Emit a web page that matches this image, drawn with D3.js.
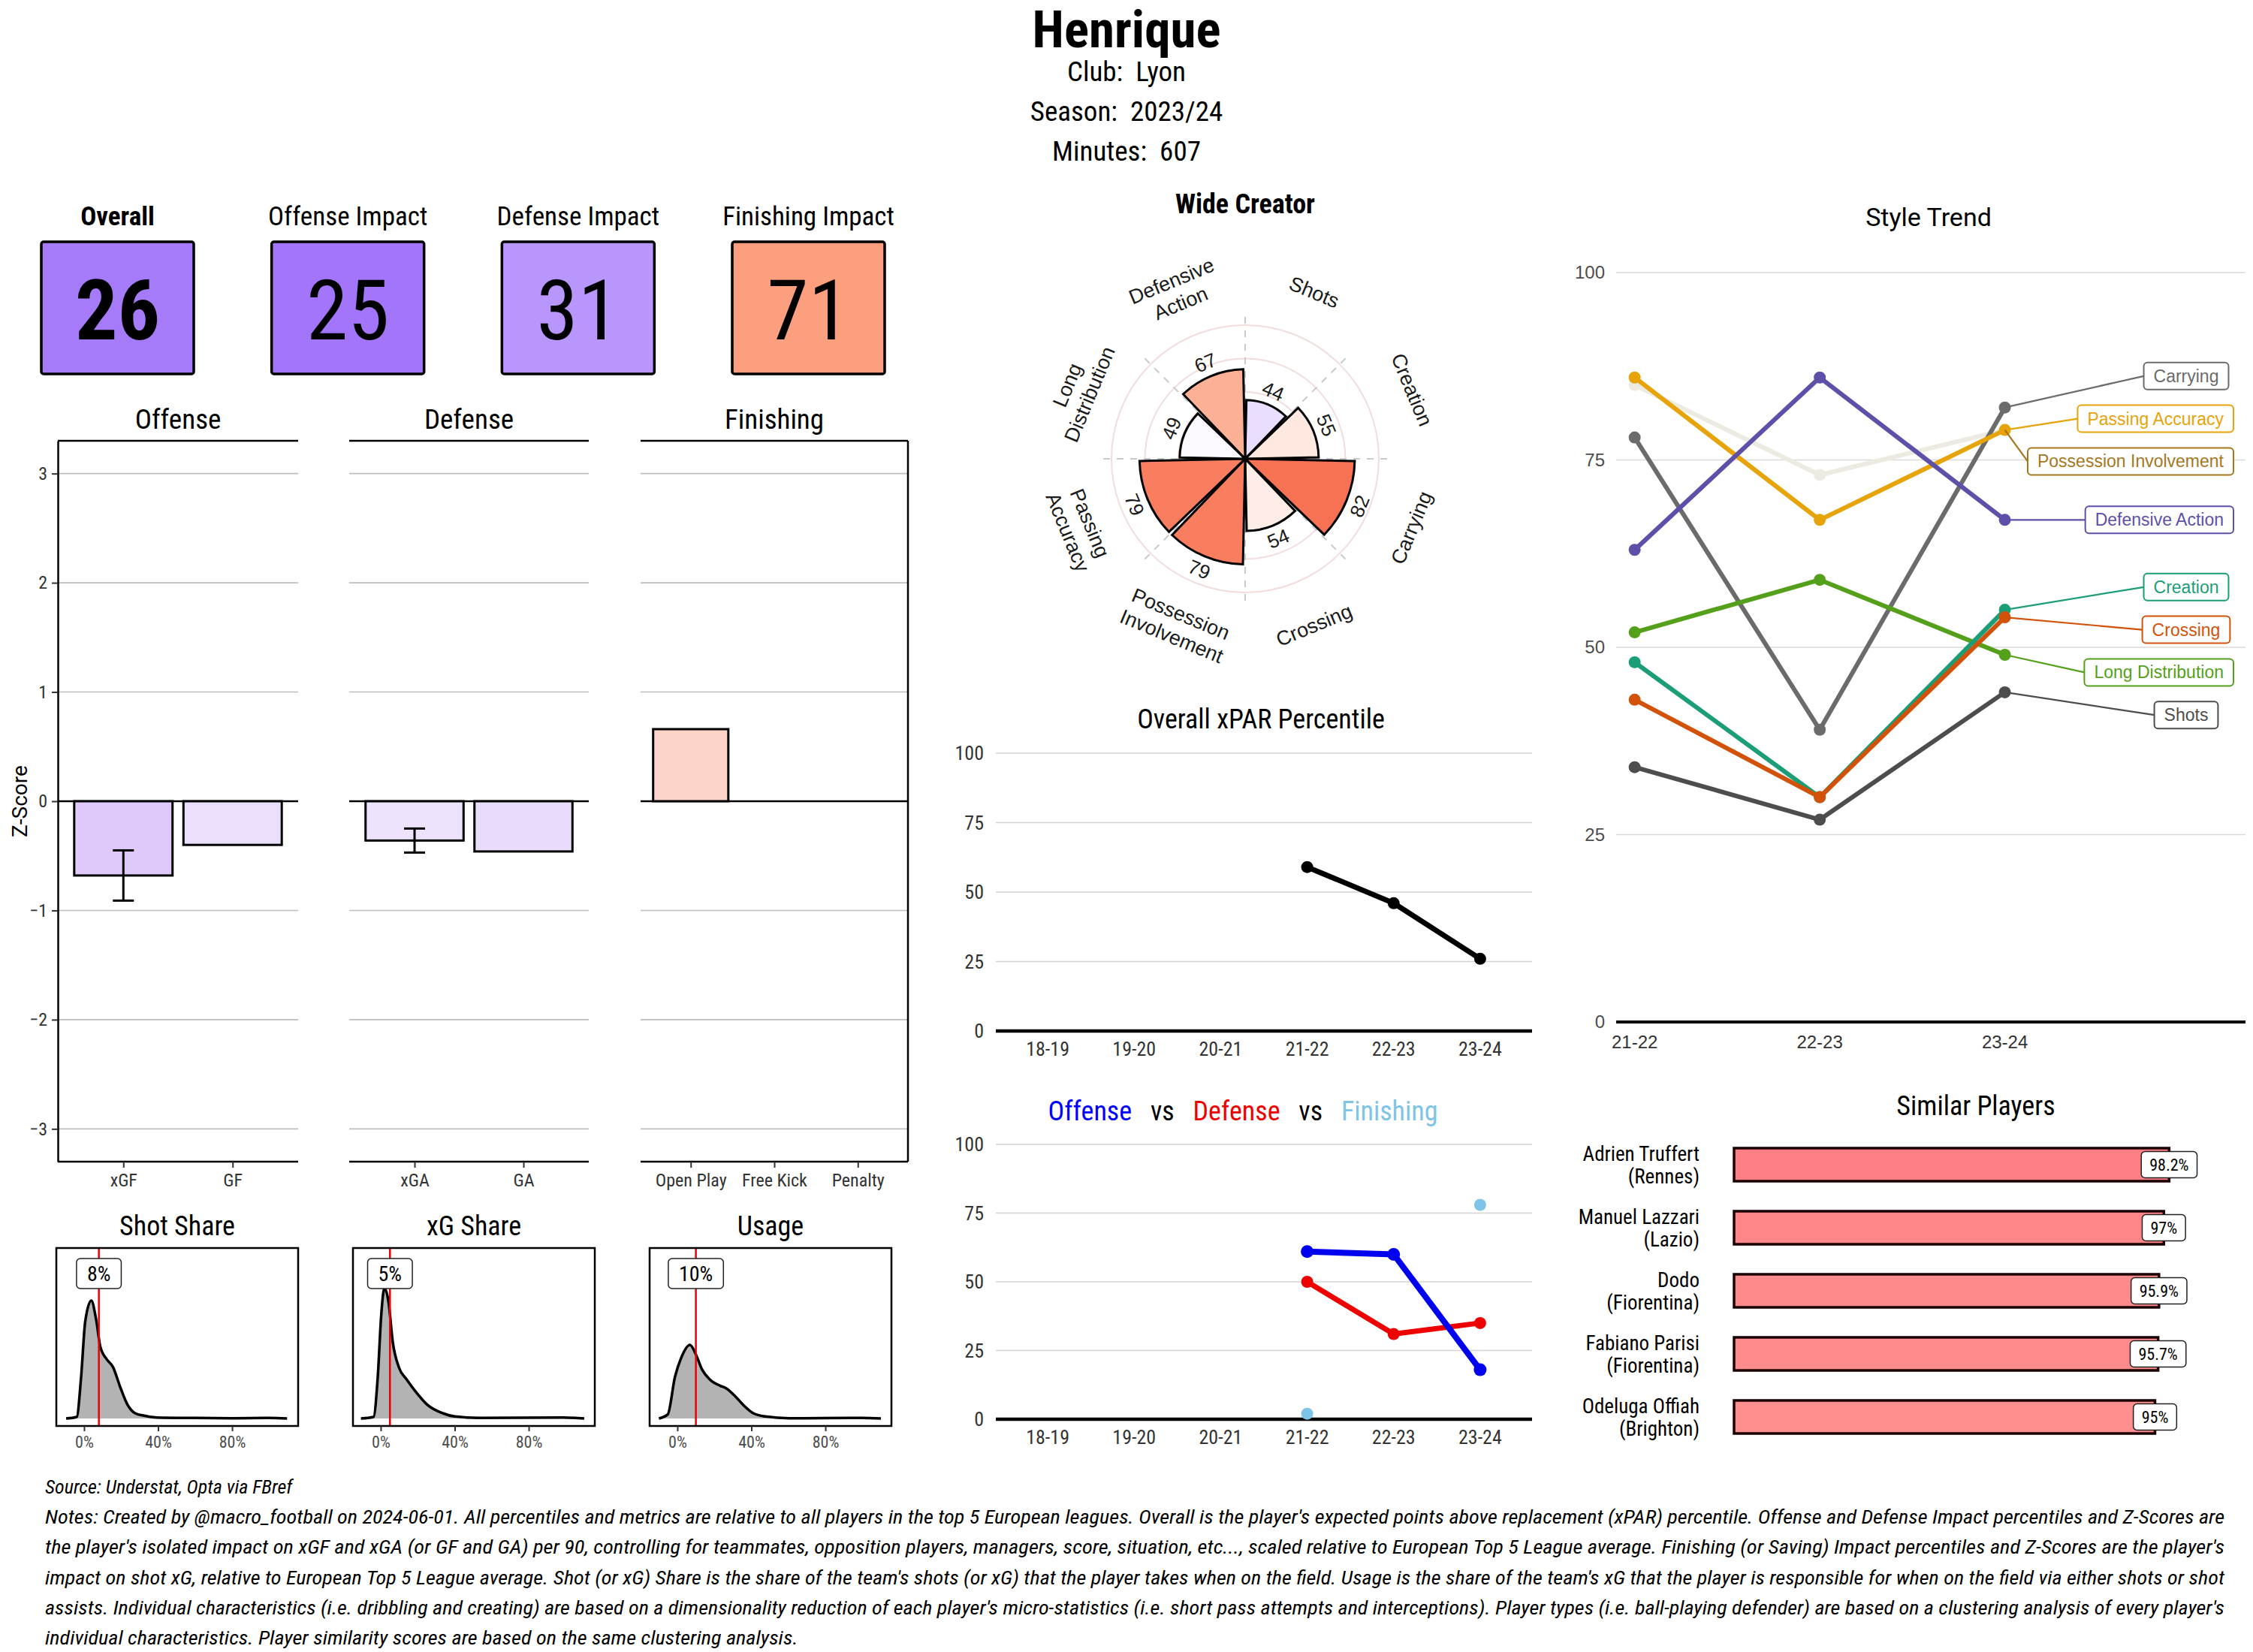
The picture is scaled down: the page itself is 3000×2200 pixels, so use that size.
<!DOCTYPE html>
<html>
<head>
<meta charset="utf-8">
<script src="https://cdn.jsdelivr.net/npm/d3@7"></script>
<style>
  body { margin: 0; background: #fff; }
  svg { display: block; }
</style>
</head>
<body>
<svg id="chart"></svg>
<script>
// Player profile dashboard

// DATA -------------------------------
const playerName = "Henrique";
const headerLines = ["Club:  Lyon", "Season:  2023/24", "Minutes:  607"];

const kpiLabels = ["Overall", "Offense Impact", "Defense Impact", "Finishing Impact"];
const kpiValues = [26, 25, 31, 71];

const zTicks = [-3, -2, -1, 0, 1, 2, 3];
const offenseCats = ["xGF", "GF"];
const offenseZ = [-0.68, -0.40];
const offenseErr = [[-0.91, -0.45], null];
const defenseCats = ["xGA", "GA"];
const defenseZ = [-0.36, -0.46];
const defenseErr = [[-0.47, -0.25], null];
const finishingCats = ["Open Play", "Free Kick", "Penalty"];
const finishingZ = [0.66, 0, 0];

const densityTitles = ["Shot Share", "xG Share", "Usage"];
const densityPlayer = [8, 5, 10];
const densityTicks = [0, 40, 80];
// [share %, density]
const shotShareCurve = [[-9.7,0],[-4,0.06],[-1.6,1.66],[0.6,3.86],[3.9,4.71],[6.5,3.96],[8.8,2.86],[12.3,2.36],[15.6,2.06],[19.5,1.26],[23.4,0.56],[27.6,0.21],[32.5,0.11],[39,0.04],[60,0.02],[80,0.01],[100,0.02],[109.7,0]];
const xgShareCurve = [[-10.7,0],[-3.9,0.06],[-1.6,1.66],[0.3,4.16],[2,5.21],[4.2,4.66],[6.5,3.06],[10,2.01],[14,1.56],[19,1.06],[25,0.56],[33.5,0.21],[40,0.08],[53,0.02],[98.5,0.04],[110,0]];
const usageCurve = [[-10,0],[-5.2,0.16],[-1.3,1.66],[2,2.41],[6.8,2.94],[10,2.56],[13.3,1.96],[17.5,1.56],[23,1.31],[26.3,1.21],[31,0.91],[36,0.51],[41,0.21],[47.5,0.08],[60.5,0.01],[99.5,0.02],[110,0]];

const playerType = "Wide Creator";
const styleCats = ["Shots", "Creation", "Carrying", "Crossing", "Possession Involvement", "Passing Accuracy", "Long Distribution", "Defensive Action"];
const styleValues = [44, 55, 82, 54, 79, 79, 49, 67];
const radarRings = [25, 50, 75, 100];

const seasons = ["18-19", "19-20", "20-21", "21-22", "22-23", "23-24"];
const pctTicks = [0, 25, 50, 75, 100];
const xparPct = [null, null, null, 59, 46, 26];
const offensePct = [null, null, null, 61, 60, 18];
const defensePct = [null, null, null, 50, 31, 35];
const finishingPct = [null, null, null, 2, null, 78];

const trendSeasons = ["21-22", "22-23", "23-24"];
const trendNames = ["Carrying", "Passing Accuracy", "Possession Involvement", "Defensive Action", "Creation", "Crossing", "Long Distribution", "Shots"];
const trendCarrying = [78, 39, 82];
const trendPassingAccuracy = [86, 67, 79];
const trendPossessionInvolvement = [85, 73, 79];
const trendDefensiveAction = [63, 86, 67];
const trendCreation = [48, 30, 55];
const trendCrossing = [43, 30, 54];
const trendLongDistribution = [52, 59, 49];
const trendShots = [34, 27, 44];

const similarNames = ["Adrien Truffert", "Manuel Lazzari", "Dodo", "Fabiano Parisi", "Odeluga Offiah"];
const similarClubs = ["Rennes", "Lazio", "Fiorentina", "Fiorentina", "Brighton"];
const similarScores = [98.2, 97, 95.9, 95.7, 95];

const sourceLine = "Source: Understat, Opta via FBref";
const notesLines = [
  "Notes: Created by @macro_football on 2024-06-01. All percentiles and metrics are relative to all players in the top 5 European leagues. Overall is the player's expected points above replacement (xPAR) percentile. Offense and Defense Impact percentiles and Z-Scores are",
  "the player's isolated impact on xGF and xGA (or GF and GA) per 90, controlling for teammates, opposition players, managers, score, situation, etc..., scaled relative to European Top 5 League average. Finishing (or Saving) Impact percentiles and Z-Scores are the player's",
  "impact on shot xG, relative to European Top 5 League average. Shot (or xG) Share is the share of the team's shots (or xG) that the player takes when on the field. Usage is the share of the team's xG that the player is responsible for when on the field via either shots or shot",
  "assists. Individual characteristics (i.e. dribbling and creating) are based on a dimensionality reduction of each player's micro-statistics (i.e. short pass attempts and interceptions). Player types (i.e. ball-playing defender) are based on a clustering analysis of every player's",
  "individual characteristics. Player similarity scores are based on the same clustering analysis."
];

// STYLE ------------------------------
const COND = "'Roboto Condensed', 'Liberation Sans Narrow', 'Arial Narrow', 'DejaVu Sans Condensed', sans-serif";
const SANS = "'Liberation Sans', Arial, sans-serif";
const ROBOTO = "Roboto, 'Liberation Sans', sans-serif";

const pctColor = d3.scaleLinear()
    .domain([0, 25, 50, 70, 100])
    .range(["#4A00F0", "#A275FA", "#FFFFFF", "#FCA383", "#F0280A"]);
const zColor = d3.scaleLinear().domain([-3, 0, 3]).range(["#7212ED", "#FFFFFF", "#F63F06"]);

const svg = d3.select('#chart')
    .attr('width', 3000)
    .attr('height', 2200);

svg.append('rect').attr('width', 3000).attr('height', 2200).attr('fill', '#fff');

function label(g, x, y, s, size, font, opts = {}) {
  return g.append('text')
      .attr('x', x).attr('y', y)
      .attr('text-anchor', opts.anchor || 'middle')
      .style('font-family', font)
      .style('font-size', size + 'px')
      .style('font-weight', opts.weight || 400)
      .style('font-style', opts.italic ? 'italic' : 'normal')
      .style('white-space', 'pre')
      .attr('fill', opts.color || '#000')
      .text(s);
}

// white rounded box behind an existing text node
function boxBehind(g, t, cx, cy, padX, h, stroke, sw) {
  const w = t.node().getComputedTextLength() + 2 * padX;
  g.insert('rect', () => t.node())
      .attr('x', cx - w / 2).attr('y', cy - h / 2)
      .attr('width', w).attr('height', h).attr('rx', 5)
      .attr('fill', '#fff').attr('stroke', stroke).attr('stroke-width', sw);
  return w;
}

function styleAxis(ax, size, font, color) {
  ax.attr('font-size', null).attr('font-family', null);
  ax.selectAll('text').style('font-size', size + 'px').style('font-family', font).attr('fill', color);
  ax.selectAll('line').attr('stroke', '#333').attr('stroke-width', 2);
  ax.select('.domain').attr('stroke', '#000').attr('stroke-width', 2.5);
}

// HEADER -----------------------------
label(svg, 1500, 63, playerName, 69, COND, {weight: 700});
headerLines.forEach((s, i) => label(svg, 1500, 108 + i * 53, s, 37, COND));

// KPI BOXES --------------------------
const kpiX = d3.scaleBand().domain(kpiLabels).range([55, 1178]).paddingInner(0.338);
kpiLabels.forEach((k, i) => {
  const cx = kpiX(k) + kpiX.bandwidth() / 2;
  label(svg, cx, 300, k, 35, COND, {weight: i === 0 ? 700 : 400});
  svg.append('rect')
      .attr('x', kpiX(k)).attr('y', 322)
      .attr('width', kpiX.bandwidth()).attr('height', 176)
      .attr('rx', 3)
      .attr('fill', pctColor(kpiValues[i]))
      .attr('stroke', '#000').attr('stroke-width', 3.5);
  label(svg, cx, 452, kpiValues[i], 112, COND, {weight: i === 0 ? 700 : 400});
});

// Z-SCORE FACETS ---------------------
const zY = d3.scaleLinear().domain([-3.3, 3.3]).range([1547, 587]);
const facets = [
  {title: "Offense", cats: offenseCats, vals: offenseZ, err: offenseErr, x0: 77, x1: 397},
  {title: "Defense", cats: defenseCats, vals: defenseZ, err: defenseErr, x0: 465, x1: 784},
  {title: "Finishing", cats: finishingCats, vals: finishingZ, err: null, x0: 853, x1: 1209}
];

facets.forEach((f, fi) => {
  const g = svg.append('g');
  const x = d3.scalePoint().domain(f.cats).range([f.x0, f.x1]).padding(0.6);
  const bw = x.step() * 0.9;

  g.selectAll('.grid').data(zTicks.filter(t => t !== 0)).enter()
      .append('line')
      .attr('x1', f.x0).attr('x2', f.x1)
      .attr('y1', d => zY(d)).attr('y2', d => zY(d))
      .attr('stroke', '#BDBDBD').attr('stroke-width', 1.6);

  g.append('line')
      .attr('x1', f.x0).attr('x2', f.x1)
      .attr('y1', zY(0)).attr('y2', zY(0))
      .attr('stroke', '#000').attr('stroke-width', 2.5);

  const data = f.cats.map((c, i) => ({c, v: f.vals[i], e: f.err ? f.err[i] : null}));
  g.selectAll('.bar').data(data).enter()
      .append('rect')
      .attr('x', d => x(d.c) - bw / 2)
      .attr('width', bw)
      .attr('y', d => zY(Math.max(0, d.v)))
      .attr('height', d => Math.abs(zY(d.v) - zY(0)))
      .attr('fill', d => zColor(d.v))
      .attr('stroke', '#000').attr('stroke-width', 3);

  data.filter(d => d.e).forEach(d => {
    const cx = x(d.c);
    g.append('line').attr('x1', cx).attr('x2', cx).attr('y1', zY(d.e[0])).attr('y2', zY(d.e[1]))
        .attr('stroke', '#000').attr('stroke-width', 3);
    [0, 1].forEach(k => g.append('line')
        .attr('x1', cx - 14).attr('x2', cx + 14)
        .attr('y1', zY(d.e[k])).attr('y2', zY(d.e[k]))
        .attr('stroke', '#000').attr('stroke-width', 3));
  });

  // frame
  g.append('line').attr('x1', f.x0).attr('x2', f.x1).attr('y1', 587).attr('y2', 587)
      .attr('stroke', '#000').attr('stroke-width', 2.5);
  if (fi === 2) {
    g.append('line').attr('x1', f.x1).attr('x2', f.x1).attr('y1', 587).attr('y2', 1547)
        .attr('stroke', '#000').attr('stroke-width', 2.5);
  }

  const xa = g.append('g').attr('transform', 'translate(0,1547)')
      .call(d3.axisBottom(x).tickSize(8).tickSizeOuter(0).tickPadding(8));
  styleAxis(xa, 24, COND, '#333');
  xa.select('.domain').attr('d', `M${f.x0},0H${f.x1}`);

  if (fi === 0) {
    const ya = g.append('g').attr('transform', `translate(${f.x0},0)`)
        .call(d3.axisLeft(zY).tickValues(zTicks).tickFormat(d3.format('d')).tickSize(8).tickSizeOuter(0).tickPadding(6));
    styleAxis(ya, 24, COND, '#333');
  }

  label(svg, (f.x0 + f.x1) / 2, 571, f.title, 37, COND);
});

svg.append('text')
    .attr('transform', `translate(36,${zY(0)}) rotate(-90)`)
    .attr('text-anchor', 'middle')
    .style('font-family', ROBOTO).style('font-size', '28px')
    .text('Z-Score');

// DENSITIES --------------------------
const densityCurves = [shotShareCurve, xgShareCurve, usageCurve];
densityTitles.forEach((t, i) => {
  const x0 = 75 + i * 395, x1 = x0 + 322;
  const x = d3.scaleLinear().domain([-15, 115.7]).range([x0, x1]);
  const y = d3.scaleLinear().domain([-0.3, 6.81]).range([1899, 1662]);
  const g = svg.append('g');
  const curve = densityCurves[i];

  g.append('path').datum(curve)
      .attr('d', d3.area().x(d => x(d[0])).y0(y(0)).y1(d => y(d[1])).curve(d3.curveMonotoneX))
      .attr('fill', '#B3B3B3');
  g.append('path').datum(curve)
      .attr('d', d3.line().x(d => x(d[0])).y(d => y(d[1])).curve(d3.curveMonotoneX))
      .attr('fill', 'none').attr('stroke', '#000').attr('stroke-width', 3.5);

  const v = densityPlayer[i];
  g.append('line').attr('x1', x(v)).attr('x2', x(v)).attr('y1', 1662).attr('y2', 1899)
      .attr('stroke', '#E8000B').attr('stroke-width', 2.5);

  g.append('rect').attr('x', x0).attr('y', 1662).attr('width', x1 - x0).attr('height', 237)
      .attr('fill', 'none').attr('stroke', '#000').attr('stroke-width', 2.5);

  const xa = g.append('g').attr('transform', 'translate(0,1899)')
      .call(d3.axisBottom(x).tickValues(densityTicks).tickFormat(d => d + '%').tickSize(7).tickSizeOuter(0).tickPadding(6));
  styleAxis(xa, 22, COND, '#4D4D4D');
  xa.select('.domain').remove();

  const lt = label(g, x(v), 1706, v + '%', 28, COND);
  boxBehind(g, lt, x(v), 1696, 14, 40, '#222', 1.5);

  label(svg, (x0 + x1) / 2, 1645, t, 36, COND);
});

// RADAR ------------------------------
const rc = {x: 1658, y: 611};
const rScale = d3.scaleLinear().domain([0, 100]).range([0, 178]);
const angle = d3.scaleBand().domain(styleCats).range([0, 2 * Math.PI]);
const gR = svg.append('g').attr('transform', `translate(${rc.x},${rc.y})`);

label(svg, rc.x, 284, playerType, 36, COND, {weight: 700});

radarRings.forEach(v => gR.append('circle')
    .attr('r', rScale(v)).attr('fill', 'none')
    .attr('stroke', '#F3DCDD').attr('stroke-width', 2));

styleCats.forEach(c => {
  const a = angle(c);
  gR.append('line')
      .attr('x1', 0).attr('y1', 0)
      .attr('x2', 196 * Math.sin(a)).attr('y2', -196 * Math.cos(a))
      .attr('stroke', '#C9C9C9').attr('stroke-width', 2).attr('stroke-dasharray', '9,9');
});

const pad = 0.021;
const arc = d3.arc()
    .innerRadius(0)
    .outerRadius(d => rScale(d.v))
    .startAngle(d => angle(d.c) + pad)
    .endAngle(d => angle(d.c) + angle.bandwidth() - pad);

const radarData = styleCats.map((c, i) => ({c, v: styleValues[i]}));
gR.selectAll('.wedge').data(radarData).enter()
    .append('path')
    .attr('d', arc)
    .attr('fill', d => pctColor(d.v))
    .attr('stroke', '#000').attr('stroke-width', 3).attr('stroke-linejoin', 'miter');

function polarText(r, a) {
  const deg = a * 180 / Math.PI;
  const rot = (deg > 90 && deg < 270) ? deg - 180 : (deg >= 270 ? deg - 360 : deg);
  return `translate(${r * Math.sin(a)},${-r * Math.cos(a)}) rotate(${rot})`;
}

radarData.forEach(d => {
  const a = angle(d.c) + angle.bandwidth() / 2;
  gR.append('text')
      .attr('transform', polarText(rScale(d.v) + 19, a))
      .attr('text-anchor', 'middle').attr('dominant-baseline', 'central')
      .style('font-family', SANS).style('font-size', '26px')
      .attr('fill', '#1A1A1A')
      .text(d.v);

  const words = d.c.split(' ');
  const t = gR.append('text')
      .attr('transform', polarText(240, a))
      .attr('text-anchor', 'middle').attr('dominant-baseline', 'central')
      .style('font-family', SANS).style('font-size', '27px')
      .attr('fill', '#1A1A1A');
  words.forEach((w, k) => t.append('tspan')
      .attr('x', 0).attr('y', (k - (words.length - 1) / 2) * 32)
      .text(w));
});

// SEASON LINE CHARTS -----------------
function seasonFrame(yTop, yBottom) {
  const x = d3.scalePoint().domain(seasons).range([1326, 2040]).padding(0.6);
  const y = d3.scaleLinear().domain([0, 100]).range([yBottom, yTop]);
  const g = svg.append('g');
  g.selectAll('.grid').data(pctTicks.filter(t => t > 0)).enter()
      .append('line')
      .attr('x1', 1326).attr('x2', 2040)
      .attr('y1', d => y(d)).attr('y2', d => y(d))
      .attr('stroke', '#D3D3D3').attr('stroke-width', 1.6);
  g.append('line').attr('x1', 1326).attr('x2', 2040).attr('y1', y(0)).attr('y2', y(0))
      .attr('stroke', '#000').attr('stroke-width', 4.5);
  pctTicks.forEach(t => label(g, 1310, y(t) + 9, t, 26, COND, {anchor: 'end', color: '#333'}));
  seasons.forEach(s => label(g, x(s), yBottom + 33, s, 26, COND, {color: '#333'}));
  return {g, x, y};
}

function seasonLine(fr, values, color, width, r) {
  const pts = seasons.map((s, i) => ({s, v: values[i]}));
  fr.g.append('path').datum(pts)
      .attr('d', d3.line().defined(d => d.v != null).x(d => fr.x(d.s)).y(d => fr.y(d.v)))
      .attr('fill', 'none').attr('stroke', color).attr('stroke-width', width)
      .attr('stroke-linejoin', 'round');
  fr.g.selectAll(null).data(pts.filter(d => d.v != null)).enter()
      .append('circle')
      .attr('cx', d => fr.x(d.s)).attr('cy', d => fr.y(d.v)).attr('r', r)
      .attr('fill', color);
}

const xparFrame = seasonFrame(1003, 1373);
label(svg, 1679, 970, "Overall xPAR Percentile", 36, COND);
seasonLine(xparFrame, xparPct, '#000', 7, 8);

const odfFrame = seasonFrame(1524, 1890);
const odfTitle = svg.append('text').attr('x', 1655).attr('y', 1492).attr('text-anchor', 'middle')
    .style('font-family', COND).style('font-size', '36px').style('white-space', 'pre');
[["Offense", "#0000FF"], ["   vs   ", "#000"], ["Defense", "#EE0000"], ["   vs   ", "#000"], ["Finishing", "#7EC4E8"]]
    .forEach(p => odfTitle.append('tspan').attr('fill', p[1]).text(p[0]));
seasonLine(odfFrame, defensePct, '#EE0000', 7, 8);
seasonLine(odfFrame, offensePct, '#0000F0', 8, 8.5);
seasonLine(odfFrame, finishingPct, '#7EC4E8', 7, 8);

// STYLE TREND ------------------------
const trendValues = [trendCarrying, trendPassingAccuracy, trendPossessionInvolvement, trendDefensiveAction,
  trendCreation, trendCrossing, trendLongDistribution, trendShots];
const trendColor = d3.scaleOrdinal().domain(trendNames)
    .range(["#6B6B6B", "#E6A30A", "#A6761D", "#5E50A8", "#1B9E77", "#D2520A", "#55A01A", "#4D4D4D"]);
const lineColor = name => name === "Possession Involvement" ? "#ECEAE1" : trendColor(name);

const tX = d3.scaleLinear().domain([0.9, 4.3]).range([2152, 2990]);
const tY = d3.scaleLinear().domain([0, 100]).range([1361, 363]);
const gT = svg.append('g');

label(svg, 2568, 301, "Style Trend", 34, ROBOTO);

gT.selectAll('.grid').data(pctTicks.filter(t => t > 0)).enter()
    .append('line')
    .attr('x1', 2152).attr('x2', 2990)
    .attr('y1', d => tY(d)).attr('y2', d => tY(d))
    .attr('stroke', '#DADADA').attr('stroke-width', 1.6);
gT.append('line').attr('x1', 2152).attr('x2', 2990).attr('y1', tY(0)).attr('y2', tY(0))
    .attr('stroke', '#000').attr('stroke-width', 4);
pctTicks.forEach(t => label(gT, 2137, tY(t) + 8, t, 24, SANS, {anchor: 'end', color: '#4D4D4D'}));
trendSeasons.forEach((s, i) => label(gT, tX(i + 1), 1396, s, 24, SANS, {color: '#333'}));

const drawOrder = [2, 0, 7, 6, 4, 5, 1, 3];
drawOrder.forEach(k => {
  const name = trendNames[k];
  const vals = trendValues[k];
  gT.append('path').datum(vals)
      .attr('d', d3.line().x((d, i) => tX(i + 1)).y(d => tY(d)))
      .attr('fill', 'none').attr('stroke', lineColor(name)).attr('stroke-width', 6)
      .attr('stroke-linejoin', 'round');
  gT.selectAll(null).data(vals).enter().append('circle')
      .attr('cx', (d, i) => tX(i + 1)).attr('cy', d => tY(d)).attr('r', 8)
      .attr('fill', lineColor(name));
});

// labels pushed apart vertically, each cluster centred on its range
function spreadLabels(targets, gap) {
  const order = d3.range(targets.length).sort((a, b) => targets[a] - targets[b]);
  let groups = order.map(k => ({idx: [k]}));
  const centre = g => (d3.min(g.idx, k => targets[k]) + d3.max(g.idx, k => targets[k])) / 2;
  let merged = true;
  while (merged) {
    merged = false;
    for (let i = 0; i < groups.length - 1; i++) {
      const a = groups[i], b = groups[i + 1];
      const aEnd = centre(a) + (a.idx.length - 1) / 2 * gap;
      const bStart = centre(b) - (b.idx.length - 1) / 2 * gap;
      if (bStart - aEnd < gap) {
        groups.splice(i, 2, {idx: a.idx.concat(b.idx)});
        merged = true;
        break;
      }
    }
  }
  const out = [];
  groups.forEach(g => {
    const c = centre(g);
    g.idx.forEach((k, j) => out[k] = c + (j - (g.idx.length - 1) / 2) * gap);
  });
  return out;
}

const lastY = trendValues.map(v => tY(v[v.length - 1]));
const labelY = spreadLabels(lastY, 56.8);
trendNames.forEach((name, k) => {
  const col = trendColor(name);
  const t = label(gT, 0, labelY[k] + 8, name, 23, SANS, {color: col});
  const w = t.node().getComputedTextLength() + 26;
  const cx = Math.min(2911, 2974 - w / 2);
  t.attr('x', cx);
  gT.insert('line', () => t.node())
      .attr('x1', tX(3)).attr('y1', lastY[k])
      .attr('x2', cx - w / 2).attr('y2', labelY[k])
      .attr('stroke', col).attr('stroke-width', 2.2);
  boxBehind(gT, t, cx, labelY[k], 13, 36, col, 2);
});

// SIMILAR PLAYERS --------------------
const sY = d3.scaleBand().domain(similarNames).range([1509, 1929]).paddingInner(0.476).paddingOuter(0.238);
const sX = d3.scaleLinear().domain([0, 100]).range([2309, 2899]);
const simColor = d3.scaleLinear().domain([95, 98.2]).range(["#FF8E8E", "#FF7F86"]);
const gS = svg.append('g');

label(svg, 2631, 1485, "Similar Players", 36, COND);

similarNames.forEach((n, i) => {
  const y0 = sY(n), h = sY.bandwidth(), cy = y0 + h / 2;
  gS.append('rect')
      .attr('x', sX(0)).attr('y', y0)
      .attr('width', sX(similarScores[i]) - sX(0)).attr('height', h)
      .attr('fill', simColor(similarScores[i]))
      .attr('stroke', '#1A0000').attr('stroke-width', 3.5);
  label(gS, 2263, cy - 5.5, n, 27, COND, {anchor: 'end'});
  label(gS, 2263, cy + 24.5, '(' + similarClubs[i] + ')', 27, COND, {anchor: 'end'});

  const t = label(gS, sX(similarScores[i]), cy + 7.5, similarScores[i] + '%', 22, COND);
  boxBehind(gS, t, sX(similarScores[i]), cy, 11, 35, '#222', 1.5);
});

// FOOTER -----------------------------
label(svg, 60, 1989, sourceLine, 26, COND, {anchor: 'start', italic: true});
const noteEls = notesLines.map((s, i) => label(svg, 60, 2029 + i * 40.3, s, 26, COND, {anchor: 'start', italic: true}));
const fullWidth = 2902;
const fit = fullWidth / noteEls[0].node().getComputedTextLength();
noteEls.forEach((el, i) => {
  const w = i < notesLines.length - 1 ? fullWidth : el.node().getComputedTextLength() * fit;
  el.attr('textLength', w).attr('lengthAdjust', 'spacingAndGlyphs');
});
</script>
</body>
</html>
